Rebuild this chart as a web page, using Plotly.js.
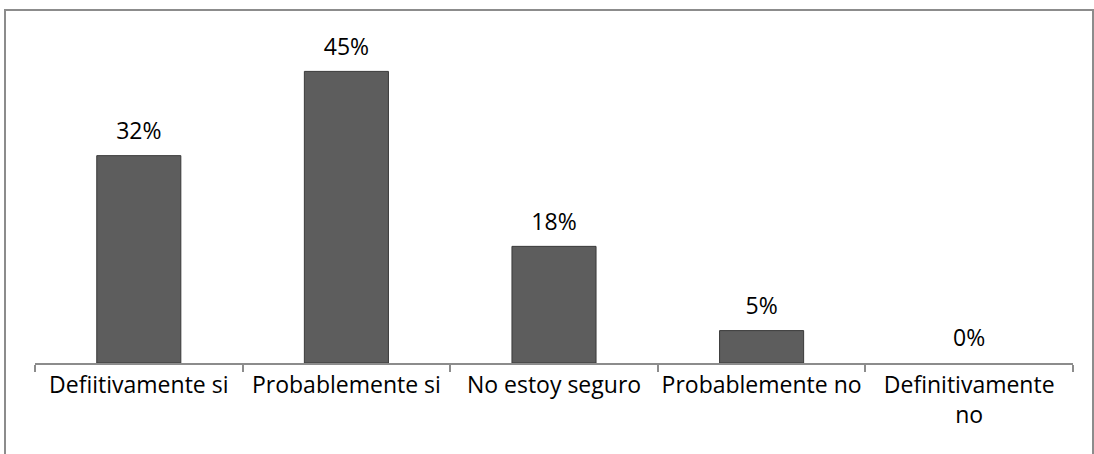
<!DOCTYPE html>
<html><head><meta charset="utf-8">
<script src="https://cdn.plot.ly/plotly-3.0.1.min.js"></script>
<style>
html,body{margin:0;padding:0;background:#fff;}
#wrap{position:relative;width:1094px;height:454px;overflow:hidden;}
#chart{position:absolute;left:0;top:0;width:1094px;height:454px;}
#frame{position:absolute;left:4px;top:9px;width:1086px;height:460px;border:2px solid #8c8c8c;pointer-events:none;}
</style></head>
<body><div id="wrap"><div id="chart"></div><div id="frame"></div></div>
<script>
const categories = ["Defiitivamente si","Probablemente si","No estoy seguro","Probablemente no","Definitivamente no"];
const tickLabels = ["Defiitivamente si","Probablemente si","No estoy seguro","Probablemente no","Definitivamente<br>no"];
const values = [32,45,18,5,0];
const valueLabels = ["32%","45%","18%","5%","0%"];

const font = {family:"'Open Sans', sans-serif", size:23, color:"#000"};
const barEdge = values.map(v => v > 0 ? 1 : 0);
Plotly.newPlot("chart",[{
  type:"bar", x:categories, y:values,
  marker:{color:"#5d5d5d", line:{color:"#3a3a3a", width:barEdge}},
  width:0.405, hoverinfo:"skip"
},{
  type:"scatter", mode:"markers+text", x:categories, y:values, text:valueLabels,
  textposition:"top center", textfont:font, cliponaxis:false,
  marker:{size:16, opacity:0}, hoverinfo:"skip"
}],{
  width:1094,height:454,
  margin:{l:35,r:21,t:39,b:91},
  paper_bgcolor:"rgba(0,0,0,0)", plot_bgcolor:"rgba(0,0,0,0)",
  showlegend:false, font:font,
  xaxis:{type:"category", tickvals:categories, ticktext:tickLabels, tickangle:0, showline:true, linecolor:"#8c8c8c", linewidth:2,
    ticks:"outside", tickson:"boundaries", ticklen:7, tickcolor:"#8c8c8c", tickwidth:2, tickfont:font, showgrid:false, zeroline:false},
  yaxis:{range:[0,50], visible:false, showgrid:false, zeroline:false}
},{staticPlot:true});
</script></body></html>
